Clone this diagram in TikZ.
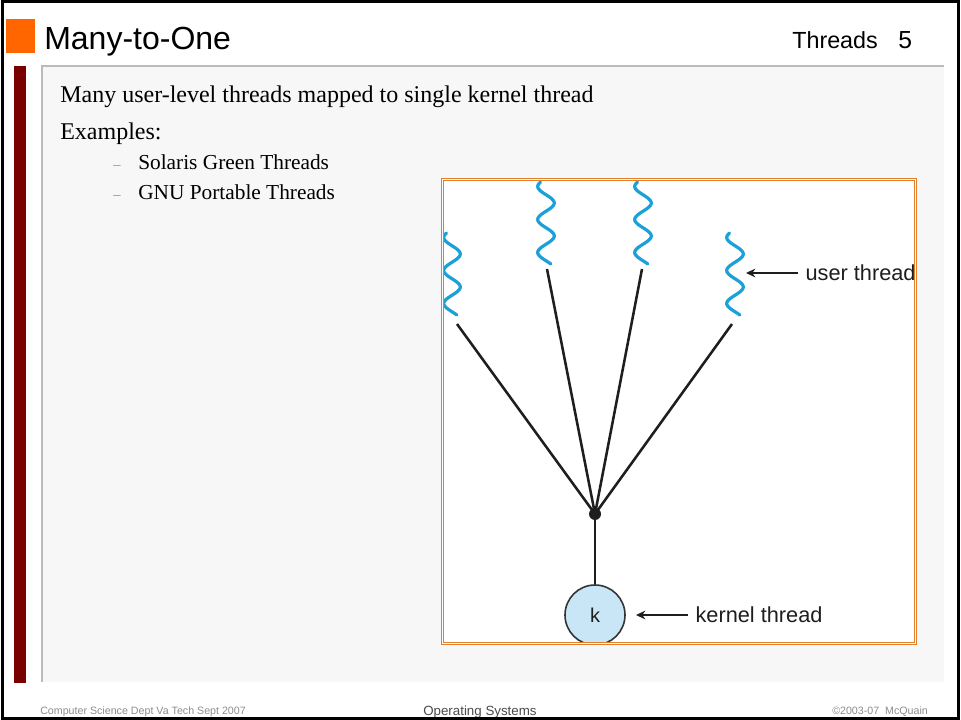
\documentclass[tikz,border=0pt]{standalone}
\usepackage{fontspec}
\setmainfont{Liberation Serif}
\setsansfont{Liberation Sans}
\usetikzlibrary{arrows.meta}

\definecolor{accent}{HTML}{FF6600}
\definecolor{sidebar}{HTML}{7A0000}
\definecolor{panelfill}{HTML}{F7F7F7}
\definecolor{panelrule}{HTML}{BBBBBB}
\definecolor{figrule}{HTML}{E07F2E}
\definecolor{threadblue}{HTML}{1BA0D8}
\definecolor{kfill}{HTML}{C9E6F7}
\definecolor{inkdark}{HTML}{1E1E1E}
\definecolor{footgrey}{HTML}{8C8C8C}
\definecolor{footdark}{HTML}{4A4A4A}

\begin{document}
\begin{tikzpicture}[x=0.75pt,y=-0.75pt,
  titletext/.style={anchor=base west,inner sep=0,font=\sffamily\fontsize{24}{28}\selectfont},
  hdr/.style={anchor=base west,inner sep=0,font=\sffamily\fontsize{17.5}{21}\selectfont},
  hdrnum/.style={anchor=base west,inner sep=0,font=\sffamily\fontsize{18.5}{22}\selectfont},
  bodytext/.style={anchor=base west,inner sep=0,font=\fontsize{18}{22}\selectfont},
  subtext/.style={anchor=base west,inner sep=0,font=\fontsize{16}{19}\selectfont},
  dashmark/.style={anchor=base west,inner sep=0,text=footgrey,font=\fontsize{11}{13}\selectfont},
  foot/.style={anchor=base west,inner sep=0,text=footgrey,font=\sffamily\fontsize{8}{10}\selectfont},
  footmid/.style={anchor=base west,inner sep=0,text=footdark,font=\sffamily\fontsize{10}{12}\selectfont},
  wave/.style={draw=threadblue,line width=2.4pt,line cap=round},
  link/.style={draw=inkdark,line width=1.9pt},
  pointer/.style={draw=inkdark,line width=1.5pt,-{Stealth[length=7pt,width=6.5pt]}},
  figlabel/.style={anchor=west,inner xsep=5.5pt,inner ysep=0,text=inkdark,font=\sffamily\fontsize{16.3}{19}\selectfont},
  hubdot/.style={circle,fill=inkdark,inner sep=0,minimum size=9pt},
  kcircle/.style={circle,draw=inkdark!90,fill=kfill,line width=1.2pt,inner sep=0,minimum size=45pt,
    text=inkdark,font=\sffamily\fontsize{15}{18}\selectfont},
  % one wavy user thread, hanging down from the point where it is placed
  uthread/.pic={\draw[wave] plot[domain=0:82,samples=60,smooth] ({8.3*cos(10.909*(\x-21))},\x);}
]
\useasboundingbox (0,0) rectangle (961,720);

% content panel and side bar
\fill[panelfill] (42,66) rectangle (944,682);
\draw[panelrule,line width=1.1pt] (42,682) -- (42,66) -- (944,66);
\fill[sidebar] (14,66) rectangle (26,683);

% header
\fill[accent] (6,19) rectangle (35,53);
\node[titletext] (title) at (44,50) {Many-to-One};
\node[hdr] (section) at (792,49) {Threads};
\node[hdrnum] (pageno) at (898,49) {5};

% body text
\node[bodytext] (line1) at (60,103) {Many user-level threads mapped to single kernel thread};
\node[bodytext] (line2) at (60,140) {Examples:};
\node[dashmark] (d1) at (113,170) {–};
\node[subtext] (ex1) at (138,170) {Solaris Green Threads};
\node[dashmark] (d2) at (113,200) {–};
\node[subtext] (ex2) at (138,200) {GNU Portable Threads};

% figure: many user threads mapped onto one kernel thread
\fill[white] (442.5,179.5) rectangle (915.5,643.5);
\begin{scope}
  \clip (444,181) rectangle (914,642);
  \pic at (452,233) {uthread};
  \pic at (546,182) {uthread};
  \pic at (643,182) {uthread};
  \pic at (735,233) {uthread};

  \coordinate (u1) at (457,324);
  \coordinate (u2) at (547,269);
  \coordinate (u3) at (642,269);
  \coordinate (u4) at (732,324);

  \node[hubdot] (hub) at (595,514) {};
  \node[kcircle] (k) at (595,615) {k};

  \draw[link] (u1) -- (hub.center);
  \draw[link] (u2) -- (hub.center);
  \draw[link] (u3) -- (hub.center);
  \draw[link] (u4) -- (hub.center);
  \draw[link] (hub.center) -- (k);

  \node[figlabel] (ulabel) at (798,273) {user thread};
  \coordinate (utip) at (746,273);
  \draw[pointer] (ulabel.west) -- (utip);

  \node[figlabel] (klabel) at (688,615) {kernel thread};
  \coordinate (ktip) at (636,615);
  \draw[pointer] (klabel.west) -- (ktip);
\end{scope}
\draw[figrule,line width=0.9pt,double=white,double distance=1.1pt] (442.5,179.5) rectangle (915.5,643.5);

% footer
\node[foot] (fleft) at (40,714) {Computer Science Dept Va Tech Sept 2007};
\node[footmid] (fmid) at (423,715) {Operating Systems};
\node[foot] (fright) at (832,714) {©2003-07\ \ McQuain};

% slide frame
\draw[black,line width=1.9pt] (2.5,1.5) rectangle (958.5,718.5);
\end{tikzpicture}
\end{document}
